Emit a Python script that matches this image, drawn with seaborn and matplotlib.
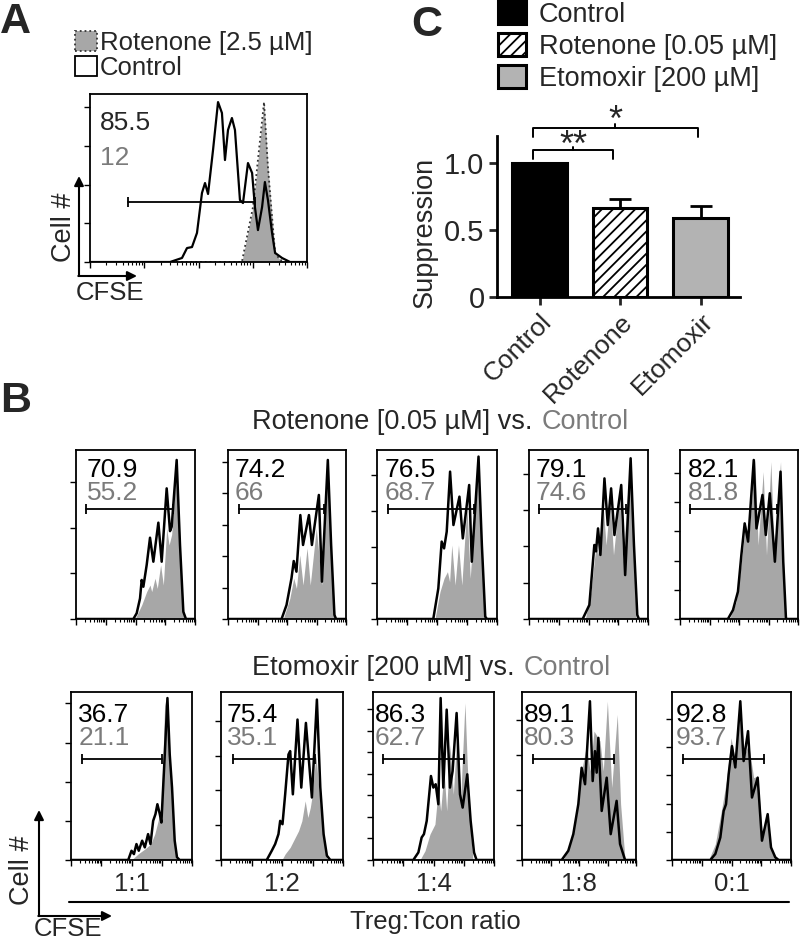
import numpy as np
import pandas as pd
import matplotlib
matplotlib.use("Agg")
import matplotlib.pyplot as plt
from matplotlib.patches import Patch
import seaborn as sns

# ---------------- data ----------------
# histogram traces as (CFSE, % of axis height) pairs
a_control = [(0, 0), (36.9, 0), (42.4, 2.4), (44.7, 8.3), (47.0, 8.9), (49.3, 17.3), (51.6, 41.1),
             (53.0, 47.0), (54.4, 40.5), (56.7, 66.7), (59.0, 95.2), (60.8, 88.7), (62.2, 60.7),
             (63.6, 78.6), (65.4, 85.7), (66.8, 78.6), (69.1, 36.9), (70.5, 35.1), (72.8, 58.9),
             (74.7, 53.0), (76.0, 32.7), (77.4, 19.0), (79.3, 32.7), (80.6, 47.6), (82.0, 36.9),
             (83.9, 17.3), (85.3, 5.4), (88.5, 2.4), (92.2, 0), (100, 0)]
a_rotenone = [(0, 0), (70.0, 0), (75.1, 32.7), (80.2, 95.2), (82.0, 56.5), (83.9, 26.8),
              (85.3, 5.4), (87.6, 1.2), (90.8, 0), (100, 0)]
a_numbers = ["85.5", "12"]
a_gate = (17.5, 76.0, 35.7)

ratios = ["1:1", "1:2", "1:4", "1:8", "0:1"]

rot_numbers = ["70.9", "74.2", "76.5", "79.1", "82.1"]
rot_ctrl_numbers = ["55.2", "66", "68.7", "74.6", "81.8"]
rot_treated = [
    [(0, 0), (48.2, 0), (51, 3.4), (53.8, 12.2), (55.2, 23.1), (56.6, 19.1), (59.4, 32), (62.2, 48.1),
     (65, 33.9), (69.2, 57), (72, 33.9), (76.2, 77.3), (79, 52), (80.4, 54.6), (84.6, 94.1),
     (87.4, 43.8), (90.2, 4.3), (92.4, 0), (100, 0)],
    [(0, 0), (45.4, 0), (49.6, 8.3), (53.8, 24.1), (55.7, 34.3), (58, 28), (61.3, 61.5), (63.6, 43.8),
     (68.6, 61.5), (71.1, 43.8), (77, 73.4), (79.6, 22.1), (84.6, 94.1), (87.4, 43.8), (90.2, 2.4),
     (91.6, 0), (100, 0)],
    [(0, 0), (46.9, 0), (51.1, 18.1), (53.9, 45.8), (55.9, 41.8), (58.1, 51.7), (60.9, 87.2),
     (63.7, 55.6), (68.7, 72.4), (71.5, 47.7), (76.8, 79.3), (79, 33.9), (84.6, 96.1), (87.4, 43.8),
     (90.2, 1.4), (91.6, 0), (100, 0)],
    [(0, 0), (45.1, 0), (50.7, 8.3), (54.9, 43.8), (56.3, 40), (58, 53.6), (60, 37.9), (63.4, 83.2),
     (66.2, 55.6), (69, 77.3), (71.8, 49.7), (77.5, 79.3), (80.8, 26), (85.4, 95.1), (88.2, 43.8),
     (91, 2.4), (92.4, 0), (100, 0)],
    [(0, 0), (40.6, 0), (44.9, 5.3), (49.1, 16.2), (52, 37.9), (54.8, 56.6), (57.7, 45.8), (62.5, 94.1),
     (64.8, 53.6), (69.9, 73.4), (72.7, 49.7), (76.1, 74.4), (80.4, 33.9), (85.2, 87.2), (87.5, 33.9),
     (89.8, 0.4), (90.9, 0), (100, 0)],
]
rot_control = [
    [(0, 0), (49.6, 0), (55.2, 8.3), (59.4, 16.2), (62.2, 20.1), (63.6, 16.2), (66.4, 24.1),
     (68.3, 18.1), (71.1, 32), (73.4, 20.1), (76.2, 53.6), (78.2, 43.8), (80.4, 50), (84.6, 93.1),
     (88.8, 20.1), (91, 0), (100, 0)],
    [(0, 0), (46.8, 0), (52.4, 12.2), (55.7, 24.1), (58, 18.1), (60.8, 37.9), (63.6, 20.1), (67, 42),
     (69.7, 20.1), (74.8, 53.6), (79.6, 20.1), (84.6, 91.1), (88.8, 20.1), (90.8, 0), (100, 0)],
    [(0, 0), (48.3, 0), (52.5, 16.2), (55.9, 24.1), (58.7, 28), (60.5, 22), (62.3, 43.8), (65.1, 20.1),
     (67.9, 43.8), (70.7, 20.1), (74.9, 67.5), (77.7, 24.1), (83.8, 91.1), (87.4, 33.9), (89.7, 0),
     (100, 0)],
    [(0, 0), (47.3, 0), (52.1, 16.2), (56.3, 43.8), (58.5, 38), (62, 69.4), (64.8, 43.8), (68.2, 71.4),
     (71, 37.9), (76.1, 73.4), (78.9, 33.9), (84.5, 91.1), (88.7, 24.1), (90.1, 0), (100, 0)],
    [(0, 0), (42, 0), (47.7, 10.3), (52, 33.9), (55.4, 55.6), (58.5, 49.7), (63.4, 95.1), (66.2, 43.8),
     (70.5, 87.2), (73.3, 37.9), (77, 93.1), (79.8, 39.8), (85.2, 93.1), (88.1, 24.1), (89.8, 0),
     (100, 0)],
]
rot_gates = [(8.4, 81.2, 64.9), (9.0, 81.0, 64.9), (9.2, 81.0, 64.9), (8.5, 81.1, 64.9), (8.5, 81.8, 64.9)]

eto_numbers = ["36.7", "75.4", "86.3", "89.1", "92.8"]
eto_ctrl_numbers = ["21.1", "35.1", "62.7", "80.3", "93.7"]
eto_treated = [
    [(0, 0), (47.3, 0), (50, 5.5), (52, 3.5), (54.1, 9.5), (56, 5.5), (58.8, 11.5), (61, 7.5),
     (63.7, 15.4), (65.7, 9.5), (67.9, 23.3), (69.8, 27.3), (71.4, 33.2), (73.4, 27.3), (74.7, 22.3),
     (77.5, 62.8), (79.7, 96.4), (81.6, 62.8), (83.5, 43.1), (85.7, 11.5), (87.6, 1.6), (89.8, 0),
     (100, 0)],
    [(0, 0), (37.5, 0), (41.6, 5.5), (44.4, 9.5), (47.1, 15.4), (48.5, 23.3), (50.4, 21.3),
     (52.6, 39.1), (55.3, 62.8), (56.7, 64.8), (58.9, 39.1), (62.7, 83.6), (65.8, 43.1), (69.6, 81.6),
     (74.5, 37.2), (78.6, 95.5), (81.4, 43.1), (84.1, 15.4), (86.8, 2.6), (89.6, 0), (100, 0)],
    [(0, 0), (33.3, 0), (37.5, 4.5), (40.2, 13.4), (42.1, 15.4), (44.4, 23.3), (47.9, 50), (49.9, 43.1),
     (51.8, 45.1), (54, 33.2), (55.9, 96.4), (58.1, 43.1), (60.9, 89.5), (63.6, 43.1), (65.8, 53),
     (69.1, 87.5), (71.9, 39.1), (74.1, 31.2), (77.9, 51), (80.7, 23.3), (83.5, 4.5), (85.6, 0),
     (100, 0)],
    [(0, 0), (34.8, 0), (40.6, 5.5), (45, 15.4), (49.4, 33.2), (52.3, 54.9), (55.3, 45.1), (59.6, 94.5),
     (62, 47), (64, 64.8), (65.5, 52), (67, 72.7), (69.9, 29.2), (74.3, 49), (77.8, 15.4), (83, 35.2),
     (86, 9.5), (90.4, 0), (100, 0)],
    [(0, 0), (32.2, 0), (36.4, 3.6), (40.6, 13.4), (43.4, 29.2), (45.4, 33.2), (47.6, 51), (50.4, 67.8),
     (53.2, 55.1), (57.4, 94.5), (60.2, 58.9), (63.9, 76.7), (67.2, 37.2), (72, 49), (75.6, 11.5),
     (80.4, 27.3), (83.2, 7.5), (86.8, 1.6), (89.6, 0), (100, 0)],
]
eto_control = [
    [(0, 0), (50, 0), (55.5, 3.6), (61, 6.5), (65.9, 9.5), (69.2, 15.4), (72, 23.3), (74.7, 31.2),
     (77.5, 94.5), (80.2, 82.6), (82.4, 43.1), (85.2, 17.4), (86.8, 0), (100, 0)],
    [(0, 0), (49.9, 0), (52.6, 3.6), (56.7, 7.5), (60.8, 13.4), (63.6, 17.4), (66.3, 23.3), (69, 35.2),
     (71.2, 25.3), (73.2, 31.2), (74.5, 37.2), (77.8, 62), (81.4, 33.2), (84.1, 13.4), (86.8, 0),
     (100, 0)],
    [(0, 0), (38.8, 0), (43, 5.5), (47.1, 15.4), (51.2, 21.3), (54, 43.1), (55.9, 29.2), (58.7, 53),
     (60.9, 29.2), (63.6, 68.8), (66.4, 39.1), (69.7, 78.7), (72.5, 37.2), (76, 93.5), (77.9, 56.9),
     (80.4, 19.4), (82.6, 0), (100, 0)],
    [(0, 0), (36.3, 0), (42.1, 9.5), (48, 27.3), (52.3, 52.9), (56.7, 68.8), (59.6, 53), (63.2, 76.7),
     (68.4, 70.8), (71.3, 53), (74.9, 94.5), (78.7, 43.1), (83.6, 86.6), (86.5, 33.2), (90.4, 0),
     (100, 0)],
    [(0, 0), (30.8, 0), (36.4, 9.5), (42, 31.2), (46.2, 49), (49.6, 72.7), (53.2, 59), (57.4, 88.5),
     (60.8, 62.8), (64.4, 68.8), (68.6, 49), (72, 50), (75.6, 17.4), (79.8, 23.3), (84, 5.5),
     (87.7, 0), (100, 0)],
]
eto_gates = [(9.3, 75.3, 59.9), (10.1, 76.7, 59.9), (8.0, 75.2, 59.9), (9.9, 81.0, 59.9), (9.2, 77.6, 59.9)]

conditions = ["Control", "Rotenone", "Etomoxir"]
condition_names = ["Control", "Rotenone [0.05 µM]", "Etomoxir [200 µM]"]
suppression = [1.0, 0.66, 0.59]
suppression_sem = [0.0, 0.07, 0.085]

# ---------------- style ----------------
W, H = 800, 944
sns.set_theme(style="white")
plt.rcParams["font.family"] = ["Liberation Sans", "DejaVu Sans"]
plt.rcParams["hatch.linewidth"] = 1.3

FS = 19.5       # general label size
NUM_FS = 19     # numbers inside histograms
GREY_TXT = "#7b7b7b"
GREY_FILL = "#a7a7a7"
GREY_BAR = "#b3b3b3"

fig = plt.figure(figsize=(W / 100, H / 100), dpi=100)


def box(l, t, r, b):
    return [l / W, 1 - b / H, (r - l) / W, (b - t) / H]


def cfse_axes(ax, ystep):
    ax.set_xlim(0, 100)
    ax.set_ylim(0, 100)
    for s in ax.spines.values():
        s.set_visible(True)
        s.set_color("black")
        s.set_linewidth(1.3)
    ax.set_xticks([0, 25, 50, 75, 100])
    ax.set_xticks([25 * (i + np.log10(k)) for i in range(4) for k in range(2, 10)], minor=True)
    ax.set_yticks(np.arange(0, 100, ystep))
    ax.tick_params(which="both", direction="out", bottom=True, left=True, labelbottom=False,
                   labelleft=False, color="black")
    ax.tick_params(which="major", length=4, width=1)
    ax.tick_params(which="minor", length=2, width=0.8)
    ax.set_xlabel("")
    ax.set_ylabel("")


def gate(ax, g):
    ax.plot([g[0], g[1]], [g[2], g[2]], color="black", lw=1.3, marker="|", ms=7, mew=1.3)


def hist_panel(ax, treated, control, g, nums, ystep, nx, ny):
    tx, ty = np.array(treated).T
    cx, cy = np.array(control).T
    ax.fill_between(cx, cy, color=GREY_FILL, lw=0)
    sns.lineplot(x=tx, y=ty, ax=ax, color="black", lw=1.8, estimator=None, sort=False)
    gate(ax, g)
    ax.text(nx, ny[0], nums[0], fontsize=NUM_FS, color="black", va="center", ha="left")
    ax.text(nx, ny[1], nums[1], fontsize=NUM_FS, color=GREY_TXT, va="center", ha="left")
    cfse_axes(ax, ystep)


# ---------------- panel A ----------------
axA = fig.add_axes(box(90, 94, 307, 262))
cx, cy = np.array(a_control).T
rx, ry = np.array(a_rotenone).T
axA.fill_between(rx, ry, color=GREY_FILL, lw=0)
sns.lineplot(x=rx, y=ry, ax=axA, color="#333333", lw=1.3, ls=":", estimator=None, sort=False)
sns.lineplot(x=cx, y=cy, ax=axA, color="black", lw=1.6, estimator=None, sort=False)
gate(axA, a_gate)
axA.text(4.6, 82.7, a_numbers[0], fontsize=NUM_FS, va="center")
axA.text(4.6, 62, a_numbers[1], fontsize=NUM_FS, va="center", color=GREY_TXT)
cfse_axes(axA, 23)
axA.legend(handles=[Patch(fc=GREY_FILL, ec="#333333", ls=":", lw=1.3),
                    Patch(fc="white", ec="black", lw=1.3)],
           labels=["Rotenone [2.5 µM]", "Control"], loc="upper left",
           bbox_to_anchor=(75 / W, 1 - 31 / H), bbox_transform=fig.transFigure,
           frameon=False, fontsize=18.5, handlelength=0.85, handleheight=0.85,
           handletextpad=0.12, labelspacing=0.02, borderpad=0, borderaxespad=0)

# ---------------- panel C ----------------
axC = fig.add_axes(box(497, 136, 740, 296.7))
df = pd.DataFrame({"condition": conditions, "suppression": suppression})
sns.barplot(data=df, x="condition", y="suppression", hue="condition",
            palette=["black", "white", GREY_BAR], width=0.68, edgecolor="black",
            linewidth=2.2, errorbar=None, legend=False, ax=axC)
axC.patches[1].set_hatch("///")
axC.errorbar(x=[1, 2], y=suppression[1:], yerr=[[0, 0], suppression_sem[1:]], fmt="none",
             ecolor="black", elinewidth=2, capsize=8, capthick=2, zorder=1)
axC.set_xlim(-0.53, 2.49)
axC.set_ylim(0, 1.2)
axC.set_yticks([0, 0.5, 1.0])
axC.set_yticklabels(["0", "0.5", "1.0"])
axC.set_xticks([0, 1, 2])
axC.set_xticklabels(conditions, rotation=45, ha="right", rotation_mode="anchor")
axC.tick_params(direction="out", length=6, width=2, bottom=True, left=True, pad=3)
axC.tick_params(axis="y", labelsize=21)
axC.tick_params(axis="x", labelsize=19)
for s in ["top", "right"]:
    axC.spines[s].set_visible(False)
for s in ["left", "bottom"]:
    axC.spines[s].set_linewidth(2)
    axC.spines[s].set_color("black")
axC.set_xlabel("")
axC.set_ylabel("Suppression", fontsize=FS)
axC.yaxis.set_label_coords(-0.243, 0.40)
# significance brackets
br = dict(color="black", lw=1.4, clip_on=False)
axC.plot([-0.08, -0.08, 0.91, 0.91], [1.03, 1.095, 1.095, 1.03], **br)
axC.plot([0.42, 0.42], [1.095, 1.12], **br)
axC.text(0.42, 0.99, "**", ha="center", va="bottom", fontsize=26)
axC.plot([-0.08, -0.08, 1.97, 1.97], [1.19, 1.26, 1.26, 1.19], **br)
axC.plot([0.94, 0.94], [1.26, 1.29], **br)
axC.text(0.94, 1.18, "*", ha="center", va="bottom", fontsize=26)
axC.legend(handles=[Patch(fc="black", ec="black", lw=2.2),
                    Patch(fc="white", ec="black", lw=2.2, hatch="///"),
                    Patch(fc=GREY_BAR, ec="black", lw=2.2)],
           labels=condition_names, loc="upper left",
           bbox_to_anchor=(498 / W, 1 - 1 / H), bbox_transform=fig.transFigure,
           frameon=False, fontsize=FS, handlelength=1.05, handleheight=0.92,
           handletextpad=0.45, labelspacing=0.2, borderpad=0, borderaxespad=0)

# ---------------- panel B ----------------
rot_boxes = [(76, 195), (228, 346), (377, 497), (529, 648), (680, 798)]
eto_boxes = [(71, 192), (221, 343), (373, 494), (522, 636), (672, 791)]
rot_ysteps = [27, 18.6, 21.3, 21.5, 17.3]
eto_ysteps = [23.3, 20.7, 12.8, 20.8, 16.8]
rot_nx = [9, 6, 6.4, 5.6, 6.5]
eto_nx = [6, 4.7, 1.7, 1.8, 2.8]

for i in range(5):
    ax = fig.add_axes(box(rot_boxes[i][0], 450, rot_boxes[i][1], 619))
    hist_panel(ax, rot_treated[i], rot_control[i], rot_gates[i],
               (rot_numbers[i], rot_ctrl_numbers[i]), rot_ysteps[i], rot_nx[i], (88.2, 74.4))
    ax = fig.add_axes(box(eto_boxes[i][0], 692, eto_boxes[i][1], 860))
    hist_panel(ax, eto_treated[i], eto_control[i], eto_gates[i],
               (eto_numbers[i], eto_ctrl_numbers[i]), eto_ysteps[i], eto_nx[i], (86.6, 72.7))

# ---------------- overlay: letters, titles, axis arrows ----------------
ov = fig.add_axes([0, 0, 1, 1])
ov.set_xlim(0, W)
ov.set_ylim(H, 0)
ov.axis("off")

ov.text(0, 33, "A", fontsize=31, fontweight="bold", va="baseline")
ov.text(0, 412, "B", fontsize=31, fontweight="bold", va="baseline")
ov.text(411, 36, "C", fontsize=31, fontweight="bold", va="baseline")

t1 = ov.text(533, 422, "Rotenone [0.05 µM] vs.", fontsize=FS, ha="right", va="center")
ov.annotate("Control", xy=(1, 0), xycoords=t1, xytext=(6, 0), textcoords="offset points",
            fontsize=FS, color=GREY_TXT, ha="left", va="bottom")
t2 = ov.text(515, 668, "Etomoxir [200 µM] vs.", fontsize=FS, ha="right", va="center")
ov.annotate("Control", xy=(1, 0), xycoords=t2, xytext=(6, 0), textcoords="offset points",
            fontsize=FS, color=GREY_TXT, ha="left", va="bottom")

for i, r in enumerate(ratios):
    ov.text((eto_boxes[i][0] + eto_boxes[i][1]) / 2, 884, r, fontsize=18.5, ha="center", va="center")
ov.plot([69, 789], [902, 902], color="black", lw=1.5)
ov.text(435, 922, "Treg:Tcon ratio", fontsize=18.5, ha="center", va="center")

arrow = dict(arrowstyle="-|>", color="black", lw=1.5, mutation_scale=14, shrinkA=0, shrinkB=0)
for (x0, y0, ytop, xr, cell_xy, cfse_xy) in [(79, 276, 176, 137, (64, 227), (76, 293)),
                                             (39, 916, 810, 112, (22, 870), (34, 929))]:
    ov.annotate("", xy=(x0, ytop), xytext=(x0, y0), arrowprops=arrow)
    ov.annotate("", xy=(xr, y0), xytext=(x0 - 0.7, y0), arrowprops=arrow)
    ov.text(*cell_xy, "Cell #", fontsize=FS, rotation=90, ha="center", va="center")
    ov.text(*cfse_xy, "CFSE", fontsize=18.5, ha="left", va="center")

fig.savefig("out.png", dpi=100)
